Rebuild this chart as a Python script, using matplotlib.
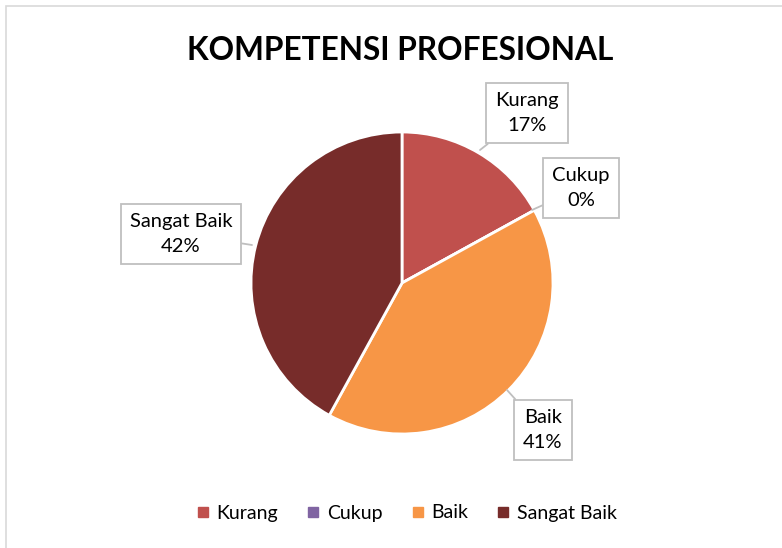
import matplotlib
matplotlib.use('Agg')
import matplotlib.pyplot as plt
from matplotlib.lines import Line2D
from matplotlib.patches import Rectangle

# data
categories = ['Kurang', 'Cukup', 'Baik', 'Sangat Baik']
percent = [17, 0, 41, 42]
colors = ['#C0504D', '#8064A2', '#F79646', '#772C2A']

# label box centres and leader points, in pixels of the 782x548 picture
label_pos = [(527, 113), (581, 188), (543, 430), (181, 234)]
leader_to = [(480, 150), (532, 210), (507, 390), (252, 245)]

plt.rcParams['font.family'] = ['Lato', 'DejaVu Sans']

W, H = 782, 548
CX, CY, R = 402, 283, 151

fig = plt.figure(figsize=(W / 100, H / 100), dpi=100)
ax = fig.add_axes([0, 0, 1, 1])

def px(x, y):
    return ((x - CX) / R, (CY - y) / R)

# outer chart border (right and bottom fall outside the picture)
fig.patches.append(Rectangle((6 / W, -0.1), 1, 1.1 - 6 / H, transform=fig.transFigure,
                             fill=False, edgecolor='#D9D9D9', linewidth=1.2))

ax.pie(percent, colors=colors, startangle=90, counterclock=False, radius=1,
       center=(0, 0), frame=True,
       wedgeprops=dict(edgecolor='white', linewidth=2))
ax.set_xlim(-CX / R, (W - CX) / R)
ax.set_ylim(-(H - CY) / R, CY / R)
ax.set_aspect('auto')
ax.axis('off')

for cat, p, pos, tgt in zip(categories, percent, label_pos, leader_to):
    ax.annotate(f'{cat}\n{p}%', xy=px(*tgt), xytext=px(*pos),
                ha='center', va='center', fontsize=14.5, color='black',
                linespacing=1.6,
                bbox=dict(boxstyle='square,pad=0.45', fc='white', ec='#BFBFBF', lw=1.3),
                arrowprops=dict(arrowstyle='-', color='#BFBFBF', lw=1.3,
                                shrinkA=0, shrinkB=0))

fig.text(400 / W, 1 - 51 / H, 'KOMPETENSI PROFESIONAL', ha='center', va='center',
         fontsize=22.8, fontweight='bold', color='black')

handles = [Line2D([], [], marker='s', linestyle='none', markersize=7,
                  markerfacecolor=c, markeredgecolor=c) for c in colors]
fig.legend(handles, categories, loc='center', bbox_to_anchor=(406 / W, 1 - 513 / H),
           ncol=4, frameon=False, fontsize=14, handletextpad=0.3, columnspacing=1.4,
           handlelength=0.8)

fig.savefig('out.png', dpi=100)
